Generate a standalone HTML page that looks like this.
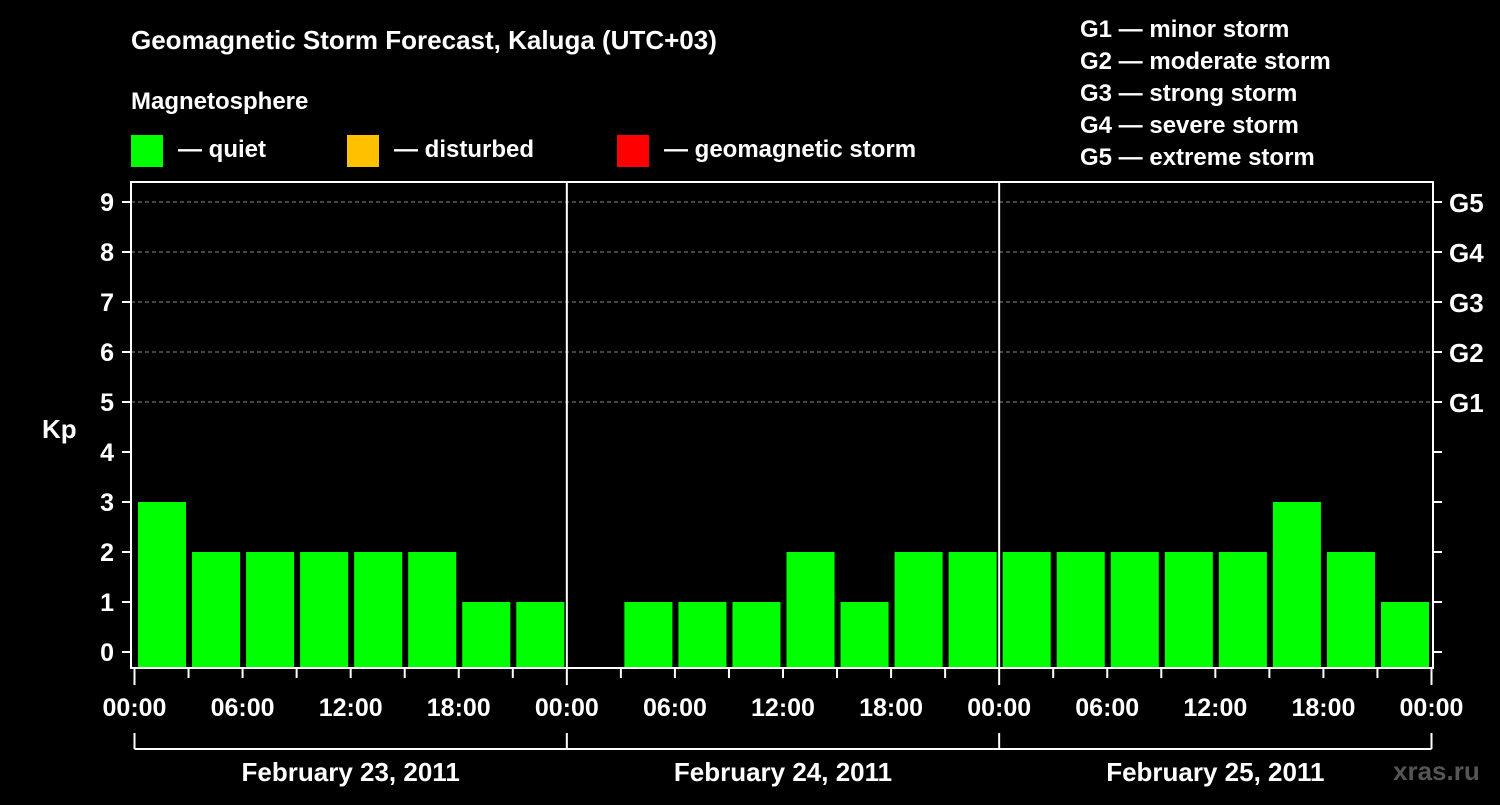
<!DOCTYPE html>
<html><head><meta charset="utf-8"><style>
body{margin:0;background:#000;width:1500px;height:800px;overflow:hidden}
svg text{font-family:"Liberation Sans",sans-serif;font-weight:bold;fill:#fff}
</style></head><body>
<svg id="c" width="1500" height="800" xmlns="http://www.w3.org/2000/svg">
<text x="131" y="49" font-size="26">Geomagnetic Storm Forecast, Kaluga (UTC+03)</text>
<text x="131" y="109" font-size="24">Magnetosphere</text>
<rect x="131" y="135" width="32" height="32" fill="#00ff00"/>
<text x="178" y="157" font-size="24">— quiet</text>
<rect x="347" y="135" width="32" height="32" fill="#ffc000"/>
<text x="394" y="157" font-size="24">— disturbed</text>
<rect x="617" y="135" width="32" height="32" fill="#ff0000"/>
<text x="664" y="157" font-size="24">— geomagnetic storm</text>
<g font-size="24">
<text x="1080" y="37">G1 — minor storm</text>
<text x="1080" y="69">G2 — moderate storm</text>
<text x="1080" y="101">G3 — strong storm</text>
<text x="1080" y="133">G4 — severe storm</text>
<text x="1080" y="165">G5 — extreme storm</text>
</g>
<text x="42" y="438" font-size="26">Kp</text>
<text x="1393" y="780" font-size="26" fill="#555" style="fill:#555">xras.ru</text>
<g id="grid"></g><g id="bars"></g><g id="axes"></g>
</svg>
<script>
const kpValues=[3,2,2,2,2,2,1,1, 0,1,1,1,2,1,2,2, 2,2,2,2,2,3,2,1];
const dayLabels=["February 23, 2011","February 24, 2011","February 25, 2011"];
const hourLabels=["00:00","06:00","12:00","18:00"];
const yTicks=[0,1,2,3,4,5,6,7,8,9];
const gLabels=["G1","G2","G3","G4","G5"];
const NS="http://www.w3.org/2000/svg";
const X0=134.5,X1=1431.5,HOURS=72,YT=182,YB=668;
const x=h=>X0+(X1-X0)*h/HOURS;
const y=v=>652-50*v;
function mk(p,t,a){const e=document.createElementNS(NS,t);for(const k in a)e.setAttribute(k,a[k]);p.appendChild(e);return e;}
const grid=document.getElementById('grid'),bars=document.getElementById('bars'),axes=document.getElementById('axes');
yTicks.forEach(v=>{if(v>=5){const l=mk(grid,'line',{x1:131,x2:1433,y1:y(v),y2:y(v),stroke:'#888','stroke-dasharray':'4,3','stroke-width':1});

}
const t=mk(axes,'line',{x1:122,x2:131,y1:y(v),y2:y(v),stroke:'#fff','stroke-width':2});


const tx=mk(axes,'text',{x:114,y:y(v)+9,'font-size':25,'text-anchor':'end'});tx.textContent=v;


const rt=mk(axes,'line',{x1:1433,x2:1442,y1:y(v),y2:y(v),stroke:'#fff','stroke-width':2});

});
gLabels.forEach((g,i)=>{const t=mk(axes,'text',{x:1449,y:y(5+i)+10,'font-size':26});t.textContent=g;

});
kpValues.forEach((v,i)=>{if(v<=0)return;const c=v>=5?'#ff0000':v>=4?'#ffc000':'#00ff00';
const r=mk(bars,'rect',{x:x(i*3)+3.5,y:y(v),width:x(3)-x(0)-6,height:667-y(v),fill:c});

});
[1,2].forEach(d=>{const l=mk(axes,'line',{x1:x(d*24),x2:x(d*24),y1:YT,y2:YB,stroke:'#fff','stroke-width':2});

});
const fr=mk(axes,'rect',{x:131,y:YT,width:1302,height:YB-YT,fill:'none',stroke:'#fff','stroke-width':2});


for(let h=0;h<=HOURS;h+=3){const maj=h%24===0;const t=mk(axes,'line',{x1:x(h),x2:x(h),y1:YB,y2:maj?685:678,stroke:'#fff','stroke-width':2});


if(h%6===0){const tx=mk(axes,'text',{x:x(h),y:716,'font-size':25,'text-anchor':'middle'});tx.textContent=hourLabels[(h%24)/6];

}}
const br=mk(axes,'line',{x1:x(0),x2:x(72),y1:749,y2:749,stroke:'#fff','stroke-width':2});


for(let d=0;d<=3;d++){const t=mk(axes,'line',{x1:x(d*24),x2:x(d*24),y1:733,y2:749,stroke:'#fff','stroke-width':2});

}
dayLabels.forEach((s,d)=>{const t=mk(axes,'text',{x:x(d*24+12),y:781,'font-size':26,'text-anchor':'middle'});t.textContent=s;

});
</script>
</body></html>
